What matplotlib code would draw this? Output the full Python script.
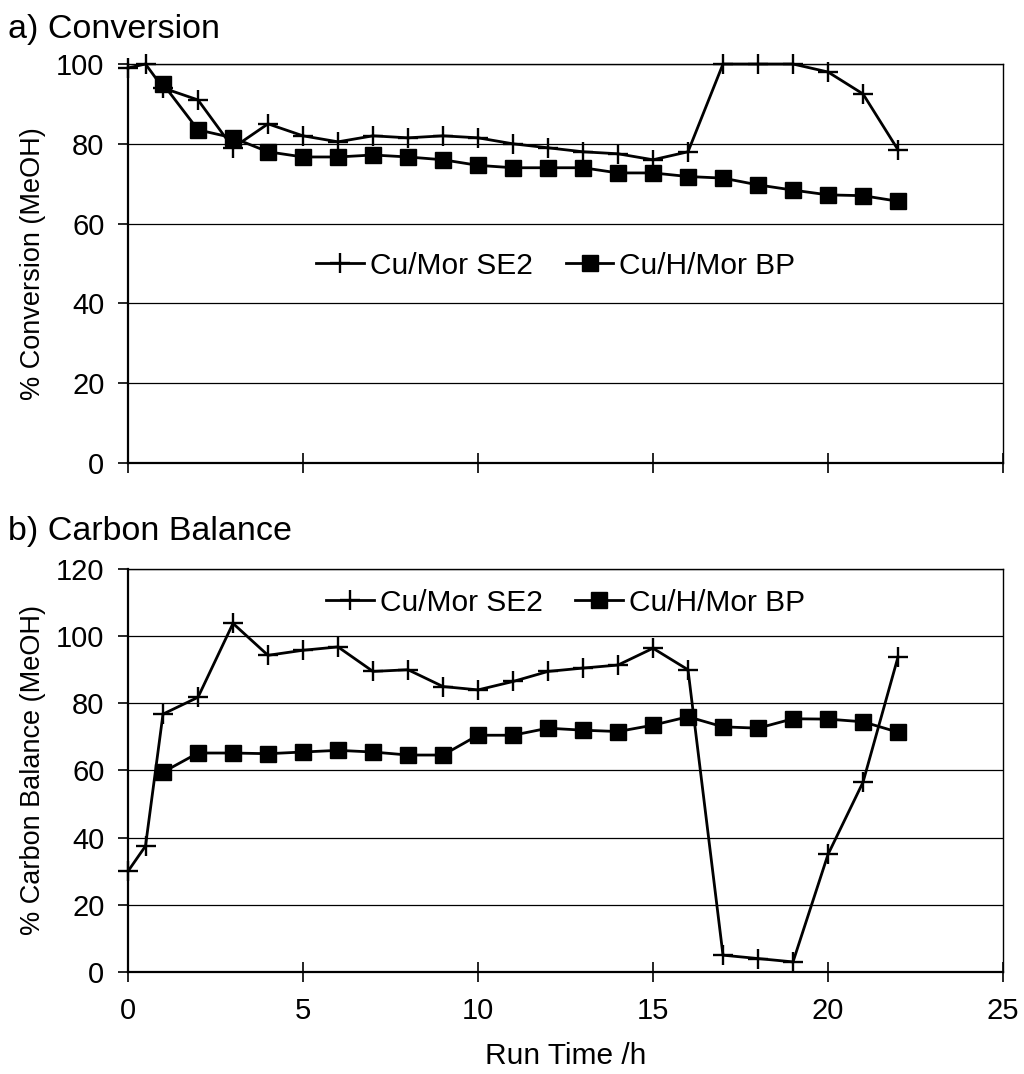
import matplotlib
matplotlib.use('Agg')
import matplotlib.pyplot as plt
import numpy as np

plt.rcParams['font.family'] = ['Liberation Sans', 'DejaVu Sans']

# run time /h
t_se2 = [0, 0.5, 1, 2, 3, 4, 5, 6, 7, 8, 9, 10, 11, 12, 13, 14, 15, 16, 17, 18, 19, 20, 21, 22]
t_bp = [1, 2, 3, 4, 5, 6, 7, 8, 9, 10, 11, 12, 13, 14, 15, 16, 17, 18, 19, 20, 21, 22]

# a) conversion
conv_se2 = [99, 100, 94, 91, 79, 85, 82, 80.5, 82, 81.5, 82, 81.5, 80, 79, 78, 77.5, 76, 78,
            100, 100, 100, 98, 92.5, 78.5]
conv_bp = [95, 83.5, 81.5, 78, 76.7, 76.7, 77.2, 76.7, 76, 74.6, 74, 74, 74, 72.7, 72.7,
           71.8, 71.4, 69.7, 68.4, 67.2, 67, 65.6]

# b) carbon balance
cb_se2 = [30, 37.5, 76.8, 81.8, 103.8, 94.3, 95.8, 96.8, 89.5, 90, 85, 84, 86.5, 89.5, 90.5,
          91.4, 96.4, 90, 5, 4, 3, 35, 56.5, 93.8]
cb_bp = [59.5, 65.2, 65.2, 65, 65.5, 66, 65.5, 64.6, 64.6, 70.5, 70.5, 72.6, 72, 71.6, 73.5,
         76, 73, 72.6, 75.4, 75.3, 74.5, 71.4]

labels = ['Cu/Mor SE2', 'Cu/H/Mor BP']

FS = 21
LFS = 21.5

fig = plt.figure(figsize=(10.24, 10.74), dpi=100)
ax1 = fig.add_axes([0.125, 0.5689, 0.8545, 0.3715])
ax2 = fig.add_axes([0.125, 0.0950, 0.8545, 0.3752])


def style(ax, ymax, show_x):
    ax.set_xlim(0, 25)
    ax.set_ylim(0, ymax)
    ax.set_xticks(np.arange(0, 26, 5))
    ax.set_yticks(np.arange(0, ymax + 1, 20))
    ax.yaxis.grid(True, color='black', lw=0.9)
    ax.set_axisbelow(True)
    for s in ['left', 'bottom']:
        ax.spines[s].set_linewidth(1.6)
    ax.spines['right'].set_linewidth(1.0)
    ax.spines['top'].set_linewidth(1.0)
    ax.tick_params(axis='x', direction='inout', length=14, width=1.2, pad=11, labelsize=FS)
    ax.tick_params(axis='y', direction='out', length=7, width=1.2, pad=10, labelsize=FS)
    if not show_x:
        ax.tick_params(axis='x', labelbottom=False)


def plot_pair(ax, y1, y2):
    ax.plot(t_se2, y1, color='black', lw=2.0, marker='+', ms=15, mew=1.7,
            label=labels[0], clip_on=False, zorder=3)
    ax.plot(t_bp, y2, color='black', lw=2.0, marker='s', ms=12,
            label=labels[1], clip_on=False, zorder=4)


plot_pair(ax1, conv_se2, conv_bp)
style(ax1, 100, False)
ax1.set_ylabel('% Conversion (MeOH)', fontsize=19.5, labelpad=7)
ax1.legend(loc='center', bbox_to_anchor=(0.489, 0.494), ncol=2, frameon=False,
           fontsize=LFS, handlelength=1.6, handletextpad=0.2, columnspacing=1.1)

plot_pair(ax2, cb_se2, cb_bp)
style(ax2, 120, True)
ax2.set_ylabel('% Carbon Balance (MeOH)', fontsize=19.5, labelpad=7)
ax2.set_xlabel('Run Time /h', fontsize=21.5, labelpad=12)
ax2.legend(loc='center', bbox_to_anchor=(0.5, 0.916), ncol=2, frameon=False,
           fontsize=LFS, handlelength=1.6, handletextpad=0.2, columnspacing=1.1)

fig.text(0.008, 1 - 38 / 1074, 'a) Conversion', fontsize=24.5, va='baseline', ha='left')
fig.text(0.008, 1 - 540 / 1074, 'b) Carbon Balance', fontsize=24.5, va='baseline', ha='left')

fig.savefig('out.png', dpi=100)
